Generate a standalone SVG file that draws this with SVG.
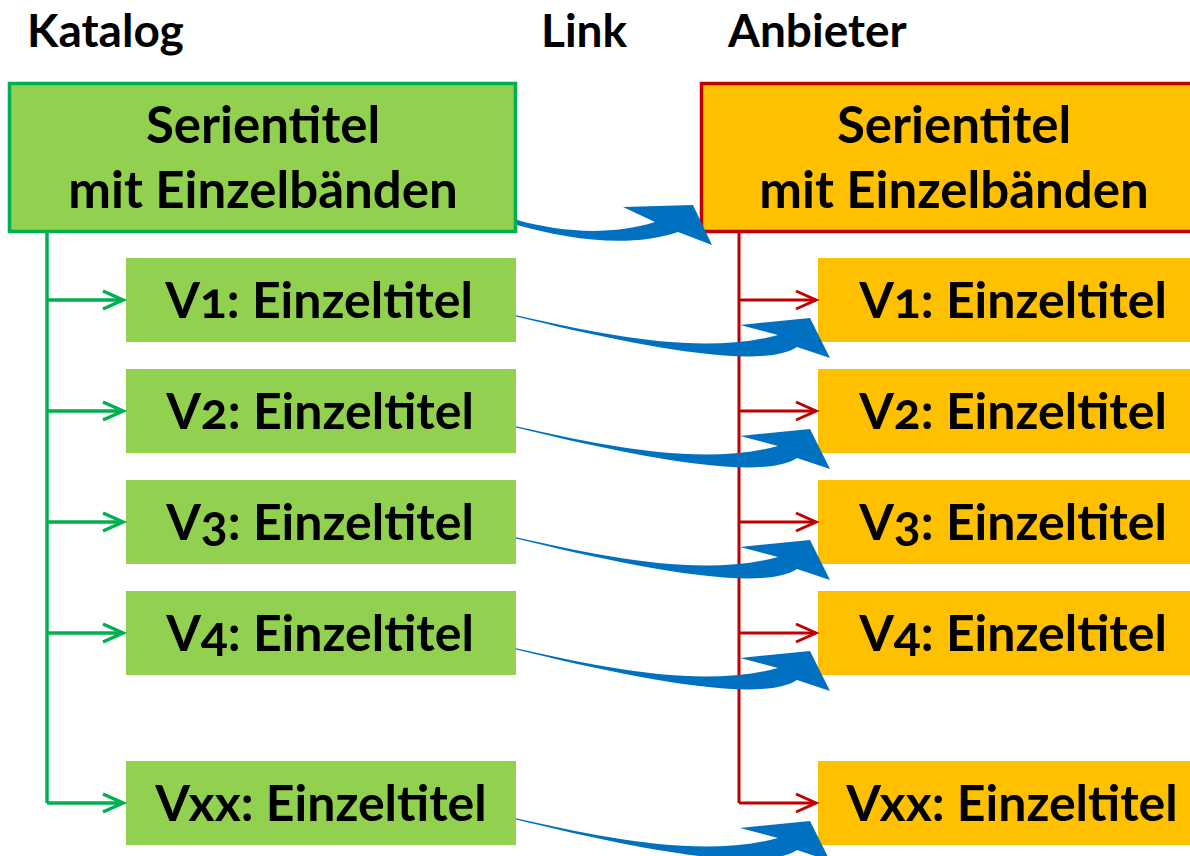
<svg xmlns="http://www.w3.org/2000/svg" width="1190" height="856" viewBox="0 0 1190 856">
<style>
text{font-family:Lato,"Open Sans","Liberation Sans",sans-serif;font-weight:700;fill:#000;font-variant-numeric:oldstyle-nums}
.hd{font-size:46px}
.bt{font-size:50px;text-anchor:middle}
.bt2{font-size:51px;text-anchor:middle}
.gbig{fill:#92D050;stroke:#00B050;stroke-width:3.5}
.obig{fill:#FFC000;stroke:#C00000;stroke-width:3.5}
.g{fill:#92D050}
.o{fill:#FFC000}
.gl{fill:none;stroke:#00B050;stroke-width:3.5}
.rl{fill:none;stroke:#C00000;stroke-width:3}
.bl{fill:#0070C0}
</style>
<defs>
<marker id="ga" markerUnits="userSpaceOnUse" markerWidth="30" markerHeight="30" refX="21" refY="10" orient="auto" viewBox="0 0 30 20">
<polyline points="1,1 21,10 1,19" fill="none" stroke="#00B050" stroke-width="3.5"/>
</marker>
<marker id="ra" markerUnits="userSpaceOnUse" markerWidth="30" markerHeight="30" refX="21" refY="10" orient="auto" viewBox="0 0 30 20">
<polyline points="1,1 21,10 1,19" fill="none" stroke="#C00000" stroke-width="3"/>
</marker>
<path id="sa" d="M516,315.3 C600,334 700,356 778,335 L740,325 L810,318 L830,358 L797,347 C760,372 620,342 516,316.5 Z"/>
</defs>
<g id="headers">
<text class="hd" x="27" y="47">Katalog</text>
<text class="hd" x="541" y="47">Link</text>
<text class="hd" x="728" y="47">Anbieter</text>
</g>
<g id="tree-lines">
<path class="gl" d="M47,232 V803"/>
<path class="rl" d="M739,232 V803"/>
</g>
<g id="cat-series"><rect class="gbig" x="9.5" y="83.5" width="506" height="148"/><text class="bt2" x="263" y="143">Serientitel</text><text class="bt2" x="263" y="208">mit Einzelbänden</text></g>
<g id="prov-series"><rect class="obig" x="701.5" y="83.5" width="510" height="148"/><text class="bt2" x="954" y="143">Serientitel</text><text class="bt2" x="954" y="208">mit Einzelbänden</text></g>
<g id="cat-v1"><rect class="g" x="126" y="258" width="390" height="84"/><text class="bt" x="319" y="318">V1: Einzeltitel</text></g>
<g id="cat-v2"><rect class="g" x="126" y="369" width="390" height="84"/><text class="bt" x="320" y="429">V2: Einzeltitel</text></g>
<g id="cat-v3"><rect class="g" x="126" y="480" width="390" height="84"/><text class="bt" x="320" y="540">V3: Einzeltitel</text></g>
<g id="cat-v4"><rect class="g" x="126" y="591" width="390" height="84"/><text class="bt" x="320" y="651">V4: Einzeltitel</text></g>
<g id="cat-vxx"><rect class="g" x="126" y="761" width="390" height="84"/><text class="bt" x="321" y="821">Vxx: Einzeltitel</text></g>
<g id="prov-v1"><rect class="o" x="818" y="258" width="390" height="84"/><text class="bt" x="1013" y="318">V1: Einzeltitel</text></g>
<g id="prov-v2"><rect class="o" x="818" y="369" width="390" height="84"/><text class="bt" x="1013" y="429">V2: Einzeltitel</text></g>
<g id="prov-v3"><rect class="o" x="818" y="480" width="390" height="84"/><text class="bt" x="1013" y="540">V3: Einzeltitel</text></g>
<g id="prov-v4"><rect class="o" x="818" y="591" width="390" height="84"/><text class="bt" x="1013" y="651">V4: Einzeltitel</text></g>
<g id="prov-vxx"><rect class="o" x="818" y="761" width="390" height="84"/><text class="bt" x="1012" y="821">Vxx: Einzeltitel</text></g>
<g id="connectors">
<path class="gl" marker-end="url(#ga)" d="M47,300 H123"/>
<path class="gl" marker-end="url(#ga)" d="M47,411 H123"/>
<path class="gl" marker-end="url(#ga)" d="M47,522 H123"/>
<path class="gl" marker-end="url(#ga)" d="M47,633 H123"/>
<path class="gl" marker-end="url(#ga)" d="M47,803 H123"/>
<path class="rl" marker-end="url(#ra)" d="M739,300 H816"/>
<path class="rl" marker-end="url(#ra)" d="M739,411 H816"/>
<path class="rl" marker-end="url(#ra)" d="M739,522 H816"/>
<path class="rl" marker-end="url(#ra)" d="M739,633 H816"/>
<path class="rl" marker-end="url(#ra)" d="M739,803 H816"/>
<path class="bl" d="M517,220 C560,232 610,236 655,222 L623,207 L693,205 L712,245 L678,232 C630,248 570,240 517,225 Z"/>
<use class="bl" href="#sa"/>
<use class="bl" href="#sa" y="111"/>
<use class="bl" href="#sa" y="222"/>
<use class="bl" href="#sa" y="333"/>
<use class="bl" href="#sa" y="503"/>
</g>
</svg>
